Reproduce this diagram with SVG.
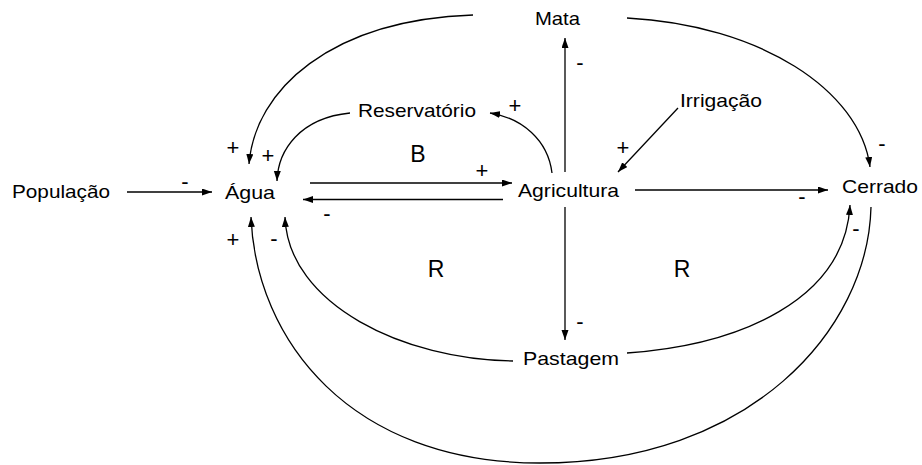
<svg xmlns="http://www.w3.org/2000/svg" width="922" height="465" viewBox="0 0 922 465">
<style>
.n{font-family:"Liberation Sans",Arial,sans-serif;font-size:19px;fill:#000}
.s{font-family:"Liberation Sans",Arial,sans-serif;font-size:22px;fill:#000;text-anchor:middle}
.L{font-family:"Liberation Sans",Arial,sans-serif;font-size:23px;fill:#000;text-anchor:middle}
.c{fill:none;stroke:#000;stroke-width:1.3}
.a{marker-end:url(#ah)}
</style>
<defs>
<marker id="ah" markerUnits="userSpaceOnUse" markerWidth="11" markerHeight="8" refX="10" refY="3.5" orient="auto">
<path d="M0,0 L10,3.5 L0,7 z" fill="#000"/>
</marker>
</defs>
<rect width="922" height="465" fill="#fff"/>
<g id="connectors">
<path class="c a" d="M127,192 L212,192"/>
<path class="c a" d="M310,183 L512,183"/>
<path class="c a" d="M503,199.5 L303,199.5"/>
<path class="c a" d="M565,172 L565,38"/>
<path class="c a" d="M565,207 L565,340"/>
<path class="c a" d="M635,190 L828,190"/>
<path class="c a" d="M678,108 L618,172"/>
<path class="c a" d="M552,173 C548,140 522,118 490,113"/>
<path class="c a" d="M350,113 C300,118 278,150 277,181"/>
<path class="c a" d="M473,15 C330,20 255,90 249,164"/>
<path class="c a" d="M627,18 C760,25 860,90 870,167"/>
<path class="c a" d="M513,361 C405,360 288,305 285,217"/>
<path class="c a" d="M627,353 C740,345 845,300 850,205"/>
<path class="c a" d="M871,207 C868,330 750,463 540,463 C350,463 256,340 251,217"/>
</g>
<g id="labels">
<text class="s" x="185" y="189">-</text>
<text class="s" x="233" y="155">+</text>
<text class="s" x="268" y="163">+</text>
<text class="s" x="515" y="113">+</text>
<text class="s" x="482" y="178">+</text>
<text class="s" x="327" y="221">-</text>
<text class="s" x="580" y="70">-</text>
<text class="s" x="623" y="155">+</text>
<text class="s" x="882" y="151">-</text>
<text class="s" x="802" y="204">-</text>
<text class="s" x="856" y="236">-</text>
<text class="s" x="233" y="247">+</text>
<text class="s" x="274" y="246">-</text>
<text class="s" x="580" y="329">-</text>
<text class="L" x="418" y="162">B</text>
<text class="L" x="436" y="277">R</text>
<text class="L" x="682" y="277">R</text>
</g>
<g id="mata"><text class="n" x="535" y="25" textLength="45" lengthAdjust="spacingAndGlyphs">Mata</text></g>
<g id="reservatorio"><text class="n" x="358" y="117" textLength="118" lengthAdjust="spacingAndGlyphs">Reservatório</text></g>
<g id="irrigacao"><text class="n" x="680" y="107" textLength="82" lengthAdjust="spacingAndGlyphs">Irrigação</text></g>
<g id="populacao"><text class="n" x="12" y="198" textLength="98" lengthAdjust="spacingAndGlyphs">População</text></g>
<g id="agua"><text class="n" x="225" y="199" textLength="50" lengthAdjust="spacingAndGlyphs">Água</text></g>
<g id="agricultura"><text class="n" x="518" y="197" textLength="101" lengthAdjust="spacingAndGlyphs">Agricultura</text></g>
<g id="cerrado"><text class="n" x="842" y="193" textLength="76" lengthAdjust="spacingAndGlyphs">Cerrado</text></g>
<g id="pastagem"><text class="n" x="523" y="365" textLength="96" lengthAdjust="spacingAndGlyphs">Pastagem</text></g>
</svg>
